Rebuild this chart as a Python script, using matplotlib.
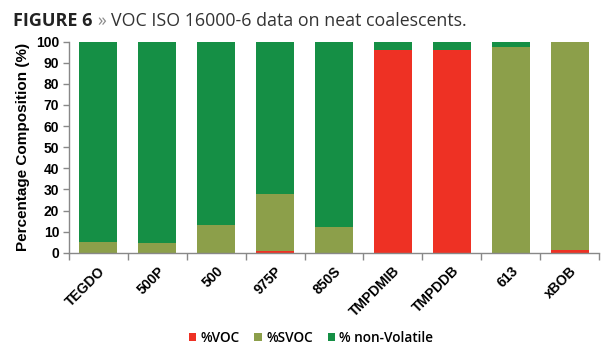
import matplotlib
matplotlib.use("Agg")
import matplotlib.pyplot as plt
import numpy as np

categories = ["TEGDO", "500P", "500", "975P", "850S", "TMPDMIB", "TMPDDB", "613", "xBOB"]
voc = [0.0, 0.0, 0.0, 1.0, 0.0, 96.3, 96.3, 0.0, 1.2]
svoc = [5.0, 4.6, 13.0, 26.6, 12.2, 0.0, 0.0, 97.4, 98.5]
nonvol = [100 - a - b for a, b in zip(voc, svoc)]
series_names = ["%VOC", "%SVOC", "% non-Volatile"]
colors = ["#EE3124", "#8C9F4A", "#158F45"]
yticks = list(range(0, 101, 10))

fig = plt.figure(figsize=(6.15, 3.5), dpi=100)
ax = fig.add_axes([69/615, 1 - 252.7/350, (599-69)/615, (252.7-41.7)/350])

x = np.arange(len(categories))
w = 0.645
b1 = ax.bar(x, voc, w, color=colors[0], label=series_names[0], linewidth=0)
b2 = ax.bar(x, svoc, w, bottom=voc, color=colors[1], label=series_names[1], linewidth=0)
bottom3 = [a + b for a, b in zip(voc, svoc)]
b3 = ax.bar(x, nonvol, w, bottom=bottom3, color=colors[2], label=series_names[2], linewidth=0)

ax.set_xlim(-0.5, len(categories) - 0.5)
ax.set_ylim(0, 100)
ax.set_yticks(yticks)
ax.set_yticklabels([str(t) for t in yticks], fontfamily="Liberation Sans", fontweight="bold", fontsize=10)
ax.set_xticks(x)
ax.set_xticklabels(categories, rotation=45, ha="right", rotation_mode="anchor",
                   fontfamily="Liberation Sans", fontweight="bold", fontsize=10)
ax.tick_params(axis="x", which="major", length=0, pad=8)
ax.set_xticks(np.arange(-0.5, len(categories), 1.0), minor=True)
ax.tick_params(axis="x", which="minor", length=5, color="#888888", width=1)
ax.tick_params(axis="y", length=4, color="#888888", width=1, pad=3)

for s in ["top", "right"]:
    ax.spines[s].set_visible(False)
for s in ["left", "bottom"]:
    ax.spines[s].set_color("#888888")
    ax.spines[s].set_linewidth(1)

ax.set_ylabel("Percentage Composition (%)", fontfamily="Liberation Sans", fontweight="bold", fontsize=11, labelpad=4)

leg = fig.legend(handles=[b1, b2, b3], labels=series_names, loc="center", bbox_to_anchor=(311/615, 1 - 338/350),
                 ncol=3, frameon=False, prop={"family": "Open Sans", "size": 9.8, "weight": 600},
                 handlelength=0.55, handleheight=0.55, handletextpad=0.3, columnspacing=1.1)

fig.text(13/615, 1 - 26/350, "FIGURE 6", fontfamily="Open Sans", fontweight="bold", fontsize=13,
         color="#222222", va="baseline", ha="left")
fig.text(97/615, 1 - 26/350, "»", fontfamily="Open Sans",
         fontsize=12.8, color="#8a8a8a", va="baseline", ha="left")
fig.text(111/615, 1 - 26/350, "VOC ISO 16000-6 data on neat coalescents.", fontfamily="Open Sans",
         fontsize=12.8, color="#333333", va="baseline", ha="left")

fig.savefig("out.png", dpi=100)
